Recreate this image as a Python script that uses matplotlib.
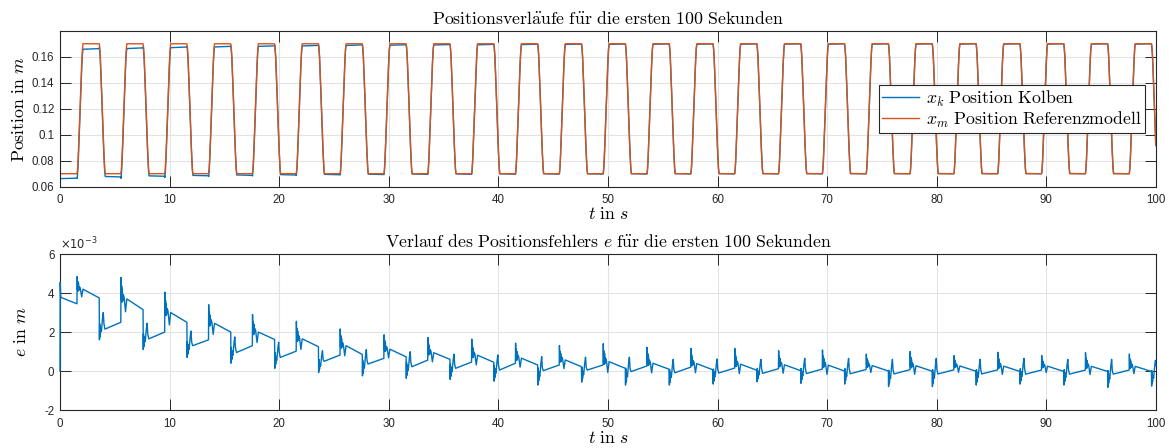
import numpy as np
import matplotlib
matplotlib.use("Agg")
import matplotlib.pyplot as plt

plt.rcParams["mathtext.fontset"] = "cm"
plt.rcParams["font.family"] = ["Liberation Sans", "DejaVu Sans"]
plt.rcParams["axes.unicode_minus"] = False

# switching instants of the reference model (s)
t_rise = [1.55, 5.55, 9.55, 13.55, 17.55, 21.55, 25.55, 29.55, 33.55, 37.55,
          41.55, 45.55, 49.55, 53.55, 57.55, 61.55, 65.55, 69.55, 73.55, 77.55,
          81.55, 85.55, 89.55, 93.55, 97.55]
t_fall = [3.58, 7.58, 11.58, 15.58, 19.58, 23.58, 27.58, 31.58, 35.58, 39.58,
          43.58, 47.58, 51.58, 55.58, 59.58, 63.58, 67.58, 71.58, 75.58, 79.58,
          83.58, 87.58, 91.58, 95.58, 99.58]
x_low = 0.07
x_high = 0.17

# position error (units of 1e-3 m)
e_start = [0.0, 4.55, 3.78]
rise_pre = [3.45, 2.5, 2.0, 1.6, 1.3, 1.02, 0.82, 0.65, 0.56, 0.46, 0.4, 0.31, 0.31,
            0.26, 0.2, 0.15, 0.12, 0.1, 0.08, 0.07, 0.06, 0.06, 0.05, 0.05, 0.05]
rise_peak = [4.85, 4.8, 4.05, 3.4, 2.9, 2.55, 2.16, 1.86, 1.72, 1.64, 1.43, 1.31, 1.4,
             1.22, 1.16, 1.16, 1.04, 1.08, 0.87, 1.0, 0.79, 0.96, 0.8, 0.94, 0.87]
rise_post = [4.2, 3.7, 3.0, 2.45, 2.0, 1.65, 1.3, 1.12, 0.94, 0.81, 0.66, 0.57, 0.48,
             0.4, 0.38, 0.35, 0.32, 0.3, 0.28, 0.27, 0.26, 0.25, 0.25, 0.24, 0.24]
fall_pre = [3.75, 3.15, 2.5, 2.0, 1.62, 1.25, 0.85, 0.73, 0.6, 0.45, 0.31, 0.22, 0.14,
            0.09, 0.06, 0.04, 0.02, 0.0, 0.0, -0.01, -0.01, -0.02, -0.02, -0.02, -0.02]
fall_trough = [1.6, 1.1, 0.7, 0.4, 0.14, -0.08, -0.25, -0.37, -0.43, -0.52, -0.72, -0.57,
               -0.72, -0.72, -0.67, -0.55, -0.63, -0.67, -0.8, -0.8, -0.72, -0.67,
               -0.72, -0.84, -0.77]
fall_bump = [3.0, 2.45, 2.05, 1.75, 1.48, 1.04, 1.1, 0.99, 0.87, 0.83, 0.74, 0.71, 0.71,
             0.6, 0.62, 0.6, 0.65, 0.65, 0.6, 0.65, 0.6, 0.65, 0.6, 0.6, 0.55]
fall_post = [2.15, 1.65, 1.3, 0.95, 0.7, 0.5, 0.36, 0.22, 0.14, 0.05, 0.02, 0.05, -0.03,
             -0.09, -0.1, -0.12, -0.13, -0.14, -0.15, -0.15, -0.15, -0.16, -0.16,
             -0.16, -0.16]

# shapes of the transients (offset in s, weight)
ramp_dt = [0, 0.05, 0.1, 0.15, 0.2, 0.25, 0.3, 0.35, 0.4, 0.45, 0.5, 0.55]
ramp_frac = [0, 0.03, 0.10, 0.20, 0.31, 0.43, 0.55, 0.67, 0.78, 0.88, 0.96, 1.0]
ring_rise_dt = [0.02, 0.05, 0.08, 0.11, 0.14, 0.17, 0.22, 0.30, 0.43, 0.55]
ring_rise_w = [1.0, -0.05, 0.6, -0.15, 0.45, -0.1, 0.2, 0.1, -0.6, 0.0]
ring_fall_dt = [0.02, 0.04, 0.06, 0.08, 0.10, 0.13, 0.20, 0.29, 0.37, 0.43, 0.52]
ring_fall_w = [0.0, 0.6, 0.1, 0.5, 0.15, 0.4, 0.3, 0.75, 1.0, 0.6, None]

# reference model polyline
tm, xm = [0.0], [x_low]
for tr, tf in zip(t_rise, t_fall):
    for d, f in zip(ramp_dt, ramp_frac):
        tm.append(tr + d)
        xm.append(x_low + f * (x_high - x_low))
    for d, f in zip(ramp_dt, ramp_frac):
        tm.append(tf + d)
        xm.append(x_high - f * (x_high - x_low))

# error polyline
te = [0.0, 0.02, 0.08]
ev = list(e_start)
for k in range(len(t_rise)):
    te.append(t_rise[k])
    ev.append(rise_pre[k])
    for d, w in zip(ring_rise_dt, ring_rise_w):
        te.append(t_rise[k] + d)
        ev.append(rise_post[k] + w * (rise_peak[k] - rise_post[k]))
    te.append(t_fall[k])
    ev.append(fall_pre[k])
    for d, w in zip(ring_fall_dt, ring_fall_w):
        te.append(t_fall[k] + d)
        if w is None:
            ev.append(fall_post[k])
        else:
            ev.append(fall_trough[k] + w * (fall_bump[k] - fall_trough[k]))

t = np.union1d(np.array(tm), np.array(te))
t = t[t <= 100]
x_m = np.interp(t, tm, xm)
e = np.interp(t, te, ev)
x_k = x_m - e * 1e-3

blue = "#0072BD"
orange = "#D95319"
axcol = "#262626"
fs = 12.8

fig = plt.figure(figsize=(11.69, 4.48), dpi=100)
ax1 = fig.add_axes([0.0513, 0.5833, 0.9376, 0.348])
ax2 = fig.add_axes([0.0513, 0.0848, 0.9376, 0.348])


def style(ax):
    ax.grid(True, color="#e3e3e3", linewidth=0.8)
    ax.set_axisbelow(True)
    ax.tick_params(direction="in", length=8, width=0.7, colors=axcol,
                   labelsize=8.3, top=True, right=True, labelcolor=axcol)
    ax.tick_params(axis="x", pad=5.5)
    ax.tick_params(axis="y", pad=4)
    for s in ax.spines.values():
        s.set_color(axcol)
        s.set_linewidth(0.8)
    ax.set_xlim(0, 100)
    ax.set_xticks(range(0, 101, 10))


ax1.plot(t, x_k, color=blue, lw=1.0, label=r"$x_k\ \mathrm{Position\ Kolben}$")
ax1.plot(t, x_m, color=orange, lw=1.0, label=r"$x_m\ \mathrm{Position\ Referenzmodell}$")
style(ax1)
ax1.set_ylim(0.06, 0.18)
ax1.set_yticks([0.06, 0.08, 0.1, 0.12, 0.14, 0.16])
ax1.set_yticklabels(["0.06", "0.08", "0.1", "0.12", "0.14", "0.16"])
ax1.set_title(r"$\mathrm{Positionsverl\ddot{a}ufe\ f\ddot{u}r\ die\ ersten\ 100\ Sekunden}$",
              fontsize=fs, pad=5)
ax1.set_ylabel(r"$\mathrm{Position\ in}\ m$", fontsize=fs, labelpad=3)
ax1.set_xlabel(r"$t\ \mathrm{in}\ s$", fontsize=fs, labelpad=0)
leg = ax1.legend(loc="upper right", bbox_to_anchor=(0.99, 0.652), borderaxespad=0,
                 fontsize=fs, fancybox=False, framealpha=1, edgecolor=axcol,
                 handlelength=2.1, handletextpad=0.35, borderpad=0.2, labelspacing=0.05)
leg.get_frame().set_linewidth(0.8)

ax2.plot(t, e, color=blue, lw=1.0, zorder=3, clip_on=False)
style(ax2)
ax2.set_ylim(-2, 6)
ax2.set_yticks([-2, 0, 2, 4, 6])
ax2.set_yticklabels(["-2", "0", "2", "4", "6"])
ax2.set_title(r"$\mathrm{Verlauf\ des\ Positionsfehlers}\ e\ \mathrm{f\ddot{u}r\ die\ ersten\ 100\ Sekunden}$",
              fontsize=fs, pad=5)
ax2.set_ylabel(r"$e\ \mathrm{in}\ m$", fontsize=fs, labelpad=10)
ax2.set_xlabel(r"$t\ \mathrm{in}\ s$", fontsize=fs, labelpad=0)
ax2.text(0.0, 1.01, r"$\times10^{-3}$", transform=ax2.transAxes, fontsize=8.3,
         color=axcol, math_fontfamily="dejavusans", va="bottom", ha="left")

fig.savefig("out.png", dpi=100)
